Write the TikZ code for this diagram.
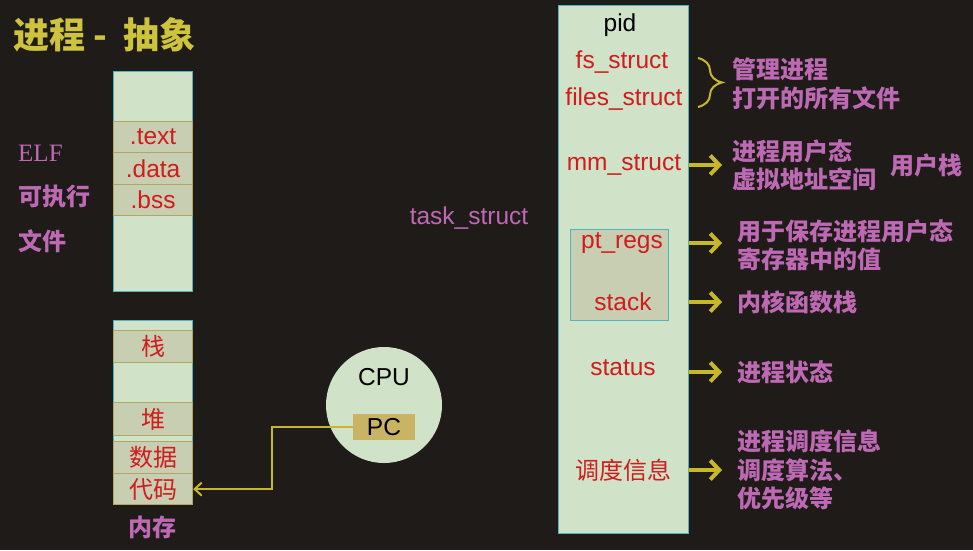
\documentclass[tikz,border=0pt]{standalone}
\usepackage{fontspec}
\setmainfont{Liberation Sans}
\newfontfamily\cjk{Noto Sans CJK SC}
\newfontfamily\serifel{Liberation Serif}
\usetikzlibrary{arrows.meta,decorations.pathreplacing}
\definecolor{bg}{RGB}{31,27,24}
\definecolor{mint}{RGB}{208,226,200}
\definecolor{seg}{RGB}{200,206,178}
\definecolor{segline}{RGB}{176,168,96}
\definecolor{tealb}{RGB}{80,180,190}
\definecolor{txtred}{RGB}{208,28,28}
\definecolor{purp}{RGB}{190,105,180}
\definecolor{ylw}{RGB}{200,184,40}
\definecolor{pcfill}{RGB}{200,180,100}
\definecolor{ttl}{RGB}{205,195,60}
\tikzset{
  lat/.style={font=\fontsize{24.5}{28}\selectfont, inner sep=0pt},
  zh/.style={font=\cjk\fontsize{24}{28.5}\selectfont, inner sep=0pt},
  zhb/.style={font=\cjk\bfseries\fontsize{24}{28.5}\selectfont, inner sep=0pt},
  panel/.style={draw=tealb, fill=mint, line width=1.2pt, anchor=north west, inner sep=0pt},
  segbox/.style={draw=segline, fill=seg, line width=1.2pt, anchor=north west, inner sep=0pt, minimum width=79pt, text=txtred},
  desc/.style={zhb, text=purp, align=left, anchor=west},
  bigarrow/.style={draw=ylw, line width=4pt, -{Straight Barb[length=9pt,width=19pt,line width=4pt]}},
  pcarrow/.style={draw=ylw, line width=2pt, -{Straight Barb[length=7pt,width=13pt,line width=2pt]}},
}
\begin{document}
\begin{tikzpicture}[x=1pt,y=-1pt]
\fill[bg] (0,0) rectangle (973,550);
\useasboundingbox (0,0) rectangle (973,550);

% title
\node[anchor=west, inner sep=0pt, text=ttl, font=\cjk\bfseries\fontsize{36}{40}\selectfont] (title) at (13,35) {进程\ - \ 抽象};

% ELF box
\node[panel, minimum width=79pt, minimum height=220pt] (elf) at (113,71) {};
\node[segbox, minimum height=31pt, lat] (text) at (113,121) {.text};
\node[segbox, minimum height=32pt, lat] (data) at (113,152) {.data};
\node[segbox, minimum height=31pt, lat] (bss) at (113,184) {.bss};

\node[anchor=west, inner sep=0pt, text=purp, font=\serifel\fontsize{25}{28}\selectfont] (elfl) at (18,153) {ELF};
\node[anchor=west, zhb, text=purp] (exe) at (18,196) {可执行};
\node[anchor=west, zhb, text=purp] (file) at (18,241) {文件};

% memory
\node[panel, minimum width=79pt, minimum height=184pt] (mem) at (113,320) {};
\node[segbox, minimum height=32pt, zh] (stk) at (113,330) {栈};
\node[segbox, minimum height=33pt, zh] (heap) at (113,402) {堆};
\node[segbox, minimum height=32pt, zh] (dat) at (113,441) {数据};
\node[segbox, minimum height=31pt, zh] (code) at (113,473) {代码};
\node[zhb, text=purp] (memlbl) at (152,527) {内存};

% CPU
\node[circle, fill=mint, minimum size=116pt, inner sep=0pt] (cpu) at (384,405) {};
\node[lat, text=black] (cpul) at (384,377) {CPU};
\node[fill=pcfill, minimum width=62pt, minimum height=26pt, inner sep=0pt, lat, text=black] (pc) at (384,427) {PC};
\draw[pcarrow] (pc.west) -- ++(-81,0) |- (code.east);

% task_struct
\node[lat, text=purp] (ts) at (469,218) {task\_struct};
\node[panel, minimum width=130pt, minimum height=528pt] (S) at (558,5) {};
\node[draw=tealb, fill=seg, line width=1.2pt, anchor=north west, inner sep=0pt, minimum width=98pt, minimum height=91pt] (inner) at (570,229) {};

\node[lat, text=black] (pid) at (620,25) {pid};
\node[lat, text=txtred] (fs) at (622,62) {fs\_struct};
\node[lat, text=txtred] (files) at (624,99) {files\_struct};
\node[lat, text=txtred] (mm) at (624,165) {mm\_struct};
\node[lat, text=txtred] (pt) at (622,243) {pt\_regs};
\node[lat, text=txtred] (kst) at (623,302) {stack};
\node[lat, text=txtred] (st) at (623,368) {status};
\node[zh, text=txtred] (sch) at (623,470) {调度信息};

% descriptions
\node[desc] (d1) at (732,84) {管理进程\\打开的所有文件};
\node[desc] (d2) at (732,165) {进程用户态\\虚拟地址空间};
\node[desc] (ustk) at (890,165) {用户栈};
\node[desc] (d3) at (737,245) {用于保存进程用户态\\寄存器中的值};
\node[desc] (d4) at (737,302) {内核函数栈};
\node[desc] (d5) at (737,372) {进程状态};
\node[desc] (d6) at (737,470) {进程调度信息\\调度算法、\\优先级等};

\draw[ylw, line width=2pt, decorate, decoration={brace, amplitude=24pt, aspect=0.5}] (698,58) -- (698,107);

\draw[bigarrow, shorten >=10pt] (S.east |- mm) -- (d2.west);
\draw[bigarrow, shorten >=15pt] (S.east |- pt) -- (d3.west |- pt);
\draw[bigarrow, shorten >=15pt] (S.east |- kst) -- (d4.west);
\draw[bigarrow, shorten >=15pt] (S.east |- d5) -- (d5.west);
\draw[bigarrow, shorten >=15pt] (S.east |- sch) -- (d6.west);
\end{tikzpicture}
\end{document}
